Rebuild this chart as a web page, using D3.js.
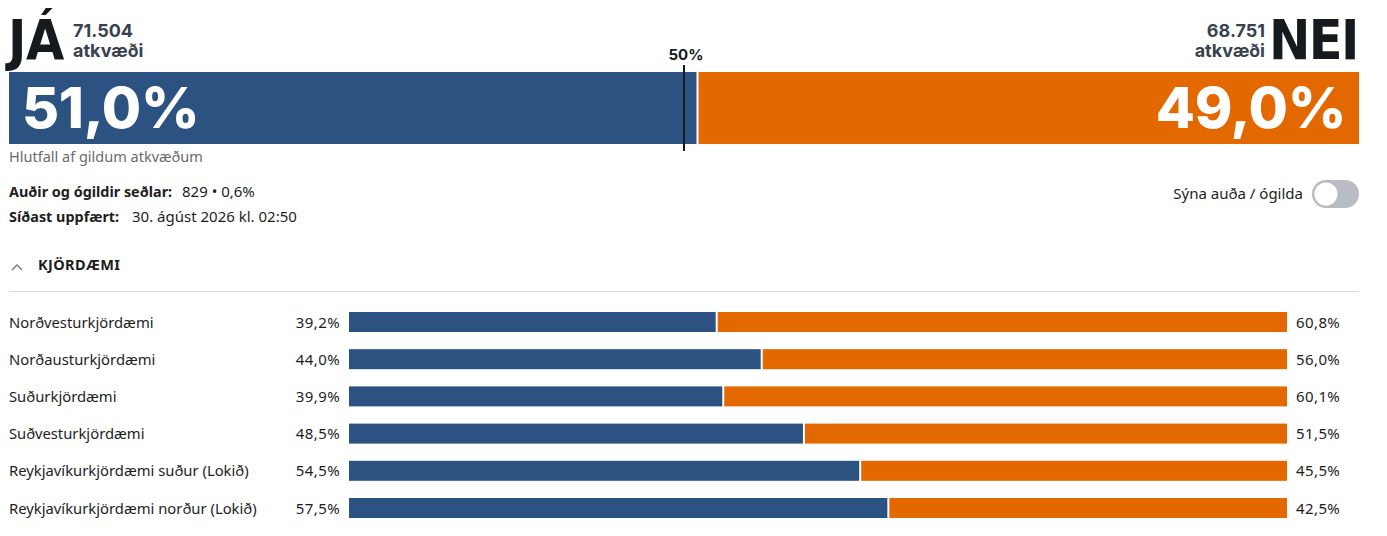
<!DOCTYPE html>
<html>
<head>
<meta charset="utf-8">
<script src="https://cdn.jsdelivr.net/npm/d3@7"></script>
<style>
  body { margin: 0; background: #fff; }
  svg { display: block; font-family: "Noto Sans", Roboto, sans-serif; }
</style>
</head>
<body>
<div class="holder"></div>
<script>
const wd = 1387
const ht = 536

// totals
const answers = ["JÁ", "NEI"]
const votes = [71504, 68751]
const shares = [51.0, 49.0]
const invalidVotes = 829
const invalidShare = 0.6
const updated = "30. ágúst 2026 kl. 02:50"

// per district
const districts = [
  "Norðvesturkjördæmi",
  "Norðausturkjördæmi",
  "Suðurkjördæmi",
  "Suðvesturkjördæmi",
  "Reykjavíkurkjördæmi suður (Lokið)",
  "Reykjavíkurkjördæmi norður (Lokið)"
]
const jaShare = [39.2, 44.0, 39.9, 48.5, 54.5, 57.5]
const neiShare = [60.8, 56.0, 60.1, 51.5, 45.5, 42.5]

const blue = "#2c5282"
const orange = "#e46800"
const dark = "#141a1e"
const txt = "#1d1d1d"

const is = d3.formatLocale({decimal: ",", thousands: ".", grouping: [3], currency: ["", " kr."]})
const fmtInt = is.format(",d")
const fmtPct = d => is.format(".1f")(d) + "%"

const svg = d3.select(".holder").append("svg")
  .attr("width", wd)
  .attr("height", ht)
  .attr("viewBox", `0 0 ${wd} ${ht}`)

// ---- top bar
const xTop = d3.scaleLinear().domain([0, 100]).range([9, 1359])
const topY = 72, topH = 72

svg.append("rect")
  .attr("x", xTop(0)).attr("y", topY)
  .attr("width", xTop(shares[0]) - 1 - xTop(0)).attr("height", topH)
  .attr("fill", blue)
svg.append("rect")
  .attr("x", xTop(shares[0]) + 1).attr("y", topY)
  .attr("width", xTop(100) - xTop(shares[0]) - 1).attr("height", topH)
  .attr("fill", orange)

const bigFont = "Inter, 'Open Sans', sans-serif"
svg.append("text")
  .attr("x", 22).attr("y", 128)
  .attr("font-family", bigFont).attr("font-weight", 800).attr("font-size", 57)
  .attr("letter-spacing", -0.3)
  .attr("fill", "#fff")
  .text(fmtPct(shares[0]))
svg.append("text")
  .attr("x", 1346).attr("y", 128).attr("text-anchor", "end")
  .attr("font-family", bigFont).attr("font-weight", 800).attr("font-size", 57)
  .attr("letter-spacing", -0.3)
  .attr("fill", "#fff")
  .text(fmtPct(shares[1]))

// 50% marker
svg.append("line")
  .attr("x1", xTop(50)).attr("x2", xTop(50))
  .attr("y1", 65).attr("y2", 151)
  .attr("stroke", dark).attr("stroke-width", 2)
svg.append("text")
  .attr("x", xTop(50) + 2).attr("y", 60).attr("text-anchor", "middle")
  .attr("font-family", bigFont).attr("font-weight", 700).attr("font-size", 15)
  .attr("fill", dark)
  .text("50%")

// headline labels
const headFont = "'Liberation Sans Narrow', 'DejaVu Sans Condensed', sans-serif"
svg.append("text")
  .attr("x", 8).attr("y", 59)
  .attr("font-family", headFont).attr("font-weight", 700).attr("font-size", 55)
  .attr("letter-spacing", -0.5)
  .attr("fill", dark)
  .text(answers[0])
svg.append("text")
  .attr("x", 1358).attr("y", 59).attr("text-anchor", "end")
  .attr("font-family", headFont).attr("font-weight", 700).attr("font-size", 55)
  .attr("letter-spacing", -1.5)
  .attr("fill", dark)
  .text(answers[1])

const subCol = "#37424d"
const sub = svg.append("g")
  .attr("font-family", bigFont).attr("font-weight", 700).attr("font-size", 18)
  .attr("fill", subCol)
sub.append("text").attr("x", 73).attr("y", 37).text(fmtInt(votes[0]))
sub.append("text").attr("x", 73).attr("y", 57).text("atkvæði")
sub.append("text").attr("x", 1265).attr("y", 37).attr("text-anchor", "end").text(fmtInt(votes[1]))
sub.append("text").attr("x", 1265).attr("y", 57).attr("text-anchor", "end").text("atkvæði")

svg.append("text").attr("x", 9).attr("y", 162)
  .attr("font-size", 14.5).attr("fill", "#6b6b6b")
  .text("Hlutfall af gildum atkvæðum")

// info lines
const info = svg.append("g").attr("font-size", 15).attr("fill", txt)
info.append("text").attr("x", 9).attr("y", 197).attr("font-weight", 700)
  .attr("font-size", 14.4)
  .text("Auðir og ógildir seðlar:")
info.append("text").attr("x", 182).attr("y", 197)
  .text(fmtInt(invalidVotes) + " • " + is.format(".1f")(invalidShare) + "%")
info.append("text").attr("x", 9).attr("y", 222).attr("font-weight", 700)
  .attr("font-size", 14.4)
  .text("Síðast uppfært:")
info.append("text").attr("x", 132).attr("y", 222)
  .text(updated)

// toggle
svg.append("text").attr("x", 1303).attr("y", 199).attr("text-anchor", "end")
  .attr("font-size", 15).attr("fill", txt)
  .text("Sýna auða / ógilda")
svg.append("rect")
  .attr("x", 1312).attr("y", 180).attr("width", 47).attr("height", 28).attr("rx", 14)
  .attr("fill", "#b9bdc3")
svg.append("circle")
  .attr("cx", 1326).attr("cy", 194).attr("r", 11.5)
  .attr("fill", "#fff")

// section header
svg.append("path")
  .attr("d", "M12,270 L17,265 L22,270")
  .attr("fill", "none").attr("stroke", "#777").attr("stroke-width", 1.3)
svg.append("text").attr("x", 38).attr("y", 270)
  .attr("font-size", 14.5).attr("font-weight", 700).attr("letter-spacing", 0.4)
  .attr("fill", txt)
  .text("KJÖRDÆMI")
svg.append("line")
  .attr("x1", 9).attr("x2", 1359).attr("y1", 291.5).attr("y2", 291.5)
  .attr("stroke", "#dcdcdc").attr("stroke-width", 1)

// ---- district rows
const x = d3.scaleLinear().domain([0, 100]).range([349, 1287])
const y = d3.scalePoint().domain(districts).range([312, 498])
const barH = 20

const rows = svg.append("g").selectAll("g")
  .data(districts.map((d, i) => ({name: d, ja: jaShare[i], nei: neiShare[i]})))
  .join("g")
  .attr("transform", d => `translate(0,${y(d.name)})`)

rows.append("rect")
  .attr("x", x(0)).attr("y", 0)
  .attr("width", d => x(d.ja) - 1 - x(0)).attr("height", barH)
  .attr("fill", blue)
rows.append("rect")
  .attr("x", d => x(d.ja) + 1).attr("y", 0)
  .attr("width", d => x(100) - x(d.ja) - 1).attr("height", barH)
  .attr("fill", orange)

rows.append("text")
  .attr("x", 9).attr("y", 15.5)
  .attr("font-size", 14.8).attr("fill", txt)
  .text(d => d.name)
rows.append("text")
  .attr("x", 340).attr("y", 15.5).attr("text-anchor", "end")
  .attr("font-size", 15).attr("letter-spacing", 0.4).attr("fill", txt)
  .text(d => fmtPct(d.ja))
rows.append("text")
  .attr("x", 1296).attr("y", 15.5)
  .attr("font-size", 15).attr("letter-spacing", 0.4).attr("fill", txt)
  .text(d => fmtPct(d.nei))
</script>
</body>
</html>
